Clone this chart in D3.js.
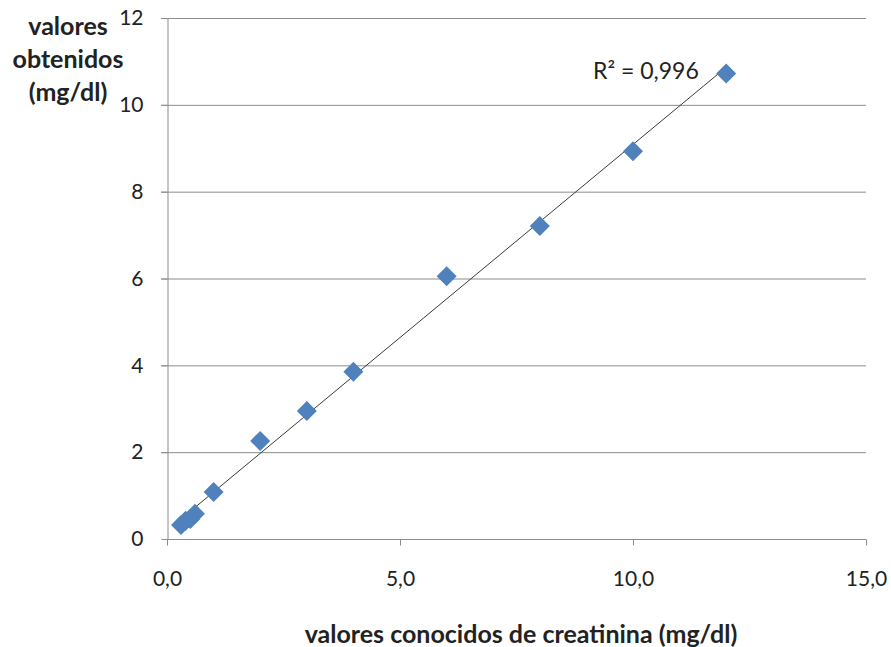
<!DOCTYPE html>
<html>
<head>
<meta charset="utf-8">
<script src="https://cdn.jsdelivr.net/npm/d3@7"></script>
<style>
  body { margin: 0; background: #fff; }
  svg text { font-family: Lato, "Open Sans", sans-serif; fill: #222; }
  .grid line { stroke: #8c8c8c; stroke-width: 1px; }
  .axis path, .axis line { stroke: #8c8c8c; }
</style>
</head>
<body>
<svg id="chart" width="891" height="647"></svg>
<script>
// known vs obtained creatinine (mg/dl)
const known    = [0.3, 0.4, 0.5, 0.6, 1, 2, 3, 4, 6, 8, 10, 12];
const obtained = [0.32, 0.42, 0.46, 0.58, 1.08, 2.26, 2.95, 3.85, 6.05, 7.21, 8.93, 10.72];
const xTicks = [0, 5, 10, 15];
const yTicks = [0, 2, 4, 6, 8, 10, 12];
const r2Label = "R² = 0,996";

const svg = d3.select("#chart");
const margin = {left: 167, right: 25, top: 18, bottom: 108};
const W = 891, H = 647;

const x = d3.scaleLinear().domain([0, 15]).range([margin.left, W - margin.right]);
const y = d3.scaleLinear().domain([0, 12]).range([H - margin.bottom, margin.top]);
const fmtX = d => d3.format(".1f")(d).replace(".", ",");

// gridlines
svg.append("g").attr("class", "grid")
  .selectAll("line").data(yTicks.filter(d => d > 0)).join("line")
    .attr("x1", x(0) - 6).attr("x2", x(15))
    .attr("y1", d => y(d) + 0.5).attr("y2", d => y(d) + 0.5);

// y axis
const yAxis = svg.append("g").attr("class", "axis")
  .attr("transform", `translate(${x(0) + 0.5},0)`)
  .call(d3.axisLeft(y).tickValues(yTicks).tickSize(6).tickPadding(18).tickSizeOuter(0));
yAxis.selectAll("text").style("font-size", "21px").attr("fill", "#222");

// x axis
const xAxis = svg.append("g").attr("class", "axis")
  .attr("transform", `translate(0,${y(0) + 0.5})`)
  .call(d3.axisBottom(x).tickValues(xTicks).tickFormat(fmtX).tickSize(6).tickPadding(26).tickSizeOuter(0));
xAxis.selectAll("text").style("font-size", "21px").attr("fill", "#222");
xAxis.select(".domain").attr("d", `M${x(0)},0H${x(15)}`);

// linear trendline
const mx = d3.mean(known), my = d3.mean(obtained);
const slope = d3.sum(known, (k, i) => (k - mx) * (obtained[i] - my)) / d3.sum(known, k => (k - mx) ** 2);
const icpt = my - slope * mx;
const xs = d3.extent(known);
svg.append("line")
  .attr("x1", x(xs[0])).attr("y1", y(icpt + slope * xs[0]))
  .attr("x2", x(xs[1])).attr("y2", y(icpt + slope * xs[1]))
  .attr("stroke", "#3a3a3a").attr("stroke-width", 1);

// points
const pts = known.map((k, i) => ({k, v: obtained[i]}));
svg.append("g").selectAll("path").data(pts).join("path")
  .attr("d", d3.symbol().type(d3.symbolSquare).size(200))
  .attr("transform", d => `translate(${x(d.k)},${y(d.v)}) rotate(45)`)
  .attr("fill", "#4f81bd");

// R² label
svg.append("text").attr("x", 593).attr("y", 79)
  .style("font-size", "23px").text(r2Label);

// axis titles
svg.append("text").attr("x", 521).attr("y", 643).attr("text-anchor", "middle")
  .style("font-size", "25px").style("font-weight", "bold")
  .text("valores conocidos de creatinina (mg/dl)");

const yTitle = ["valores", "obtenidos", "(mg/dl)"];
svg.append("g").selectAll("text").data(yTitle).join("text")
  .attr("x", 68).attr("y", (d, i) => 35 + i * 33).attr("text-anchor", "middle")
  .style("font-size", "25px").style("font-weight", "bold")
  .text(d => d);
</script>
</body>
</html>
